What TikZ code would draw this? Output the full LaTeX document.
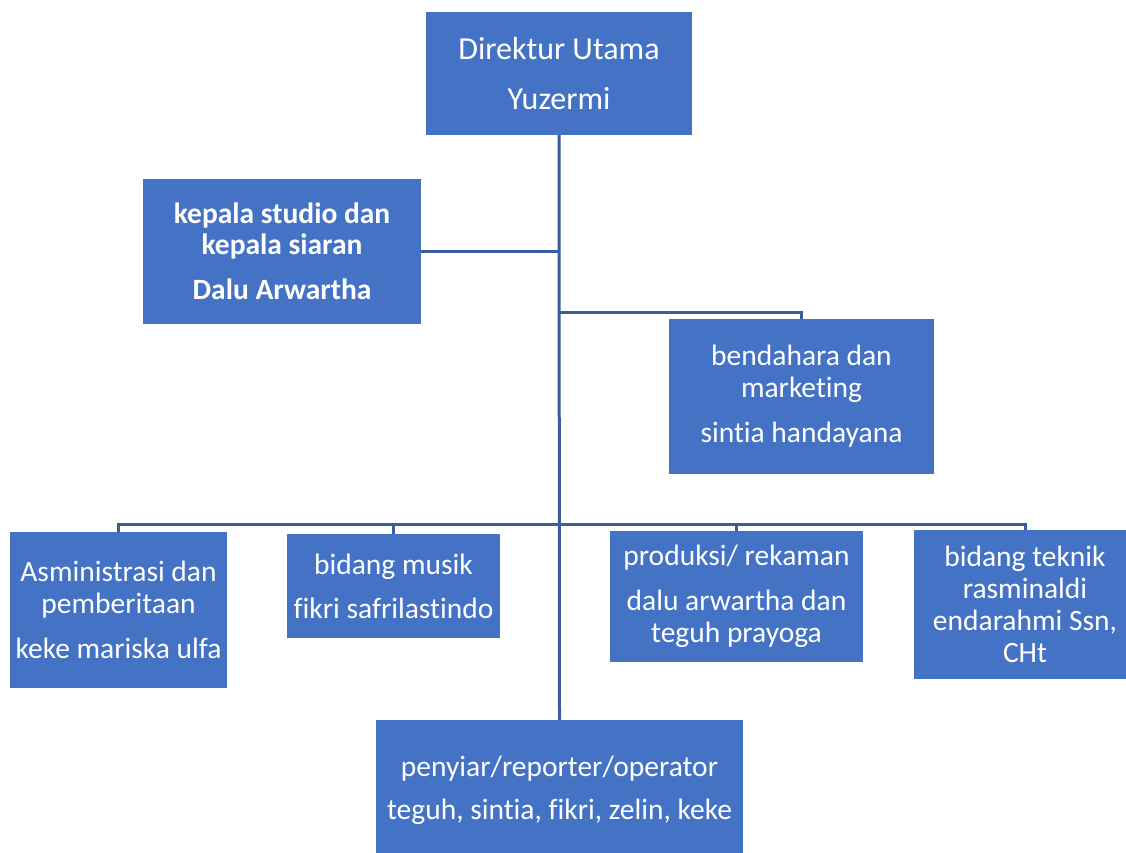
\documentclass[tikz,border=0pt]{standalone}
\usepackage{fontspec}
\setmainfont{Carlito}[Ligatures={NoCommon,NoContextual,NoRequired},Contextuals={NoAlternate}]
\definecolor{boxblue}{HTML}{4472C4}
\definecolor{linkblue}{HTML}{3A5D9C}
\begin{document}
\begin{tikzpicture}[x=1pt,y=-1pt,
  box/.style={fill=boxblue, text=white, align=center, inner sep=0pt,
    font=\fontsize{29.5}{32}\selectfont},
  link/.style={draw=linkblue, line width=3pt}]
\useasboundingbox (0,0) rectangle (1126,853);
\node[box, minimum width=266, minimum height=123, font=\fontsize{32}{32}\selectfont] (dir) at (559,73.5) {Direktur Utama\\[18pt]Yuzermi};
\node[box, minimum width=278, minimum height=145, font=\fontsize{29.5}{31}\selectfont\bfseries] (kep) at (282,251.5) {kepala studio dan\\kepala siaran\\[14pt]Dalu Arwartha};
\node[box, minimum width=265, minimum height=155] (ben) at (801.5,396.5) {bendahara dan\\marketing\\[13pt]sintia handayana};
\node[box, minimum width=217, minimum height=156] (asm) at (118.5,610) {Asministrasi dan\\pemberitaan\\[13pt]keke mariska ulfa};
\node[box, minimum width=213, minimum height=104] (mus) at (393.5,586) {bidang musik\\[12pt]fikri safrilastindo};
\node[box, minimum width=253, minimum height=131] (pro) at (736.5,596.5) {produksi/ rekaman\\[13pt]dalu arwartha dan\\teguh prayoga};
\node[box, minimum width=222, minimum height=149] (tek) at (1025,604.5) {bidang teknik\\rasminaldi\\endarahmi Ssn,\\CHt};
\node[box, minimum width=367, minimum height=140] (pen) at (559.5,790) {penyiar/reporter/operator\\[11pt]teguh, sintia, fikri, zelin, keke};
\coordinate (bus) at (559,524);
\coordinate (bend) at (559,312);
\draw[link] (dir.south) -- (pen.north);
\draw[link] (kep.east) -- (kep.east -| dir.south);
\draw[link] (bend) -| (ben.north);
\draw[link] (asm.north) |- (bus) -| (tek.north);
\draw[link] (mus.north) -- (mus.north |- bus);
\draw[link] (pro.north) -- (pro.north |- bus);
\end{tikzpicture}
\end{document}
